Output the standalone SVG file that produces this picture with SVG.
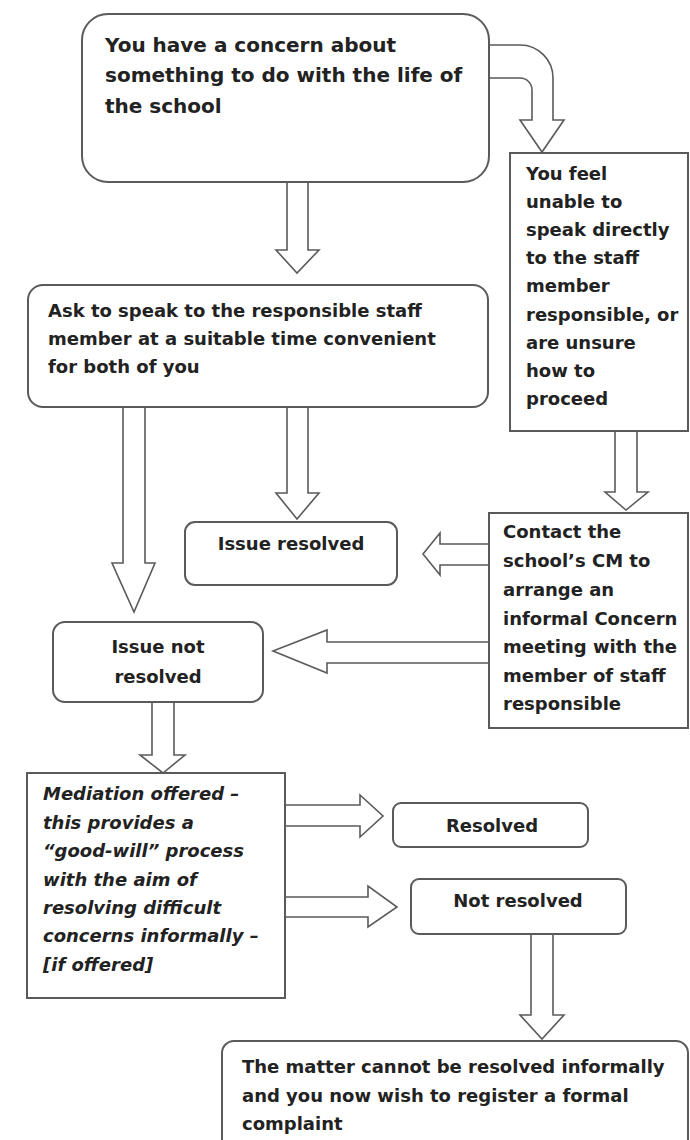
<svg xmlns="http://www.w3.org/2000/svg" width="690" height="1140" viewBox="0 0 690 1140">
<style>
.box{fill:#fff;stroke:#5a5a5a;stroke-width:2}
.arr{fill:#fff;stroke:#5a5a5a;stroke-width:1.6;stroke-linejoin:miter}
text{font-family:"DejaVu Sans","Liberation Sans",sans-serif;font-weight:bold;fill:#222}
.big{font-size:20px}
.t{font-size:18px}
.it{font-style:italic}
.c{text-anchor:middle}
</style>
<rect width="690" height="1140" fill="#fff"/>
<g id="connectors">
<path class="arr" d="M489,45 H520 A33,33 0 0 1 553,78 V120 H564 L542,152 L520,120 H532 V90 A12,12 0 0 0 520,78 H489"/>
<polygon class="arr" points="287,182 287,250 276,250 297,273 319,250 308,250 308,182"/>
<polygon class="arr" points="123,407 123,563 112,563 134,612 155,563 145,563 145,407"/>
<polygon class="arr" points="287,407 287,493 276,493 297,519 319,493 308,493 308,407"/>
<polygon class="arr" points="615,431 615,492 605,492 626,510 648,492 637,492 637,431"/>
<polygon class="arr" points="489,544 440,544 440,533 423,554 440,575 440,565 489,565"/>
<polygon class="arr" points="489,642 327,642 327,630 273,651 327,673 327,663 489,663"/>
<polygon class="arr" points="152,702 152,755 140,755 163,773 185,755 174,755 174,702"/>
<polygon class="arr" points="285,805 360,805 360,795 383,816 360,837 360,826 285,826"/>
<polygon class="arr" points="285,897 368,897 368,886 397,907 368,927 368,917 285,917"/>
<polygon class="arr" points="531,934 531,1015 520,1015 542,1039 564,1015 553,1015 553,934"/>
</g>
<g id="concern">
<rect class="box" x="82" y="14" width="407" height="168" rx="26"/>
<text class="big" x="105" y="52">You have a concern about</text>
<text class="big" x="105" y="82">something to do with the life of</text>
<text class="big" x="105" y="113">the school</text>
</g>
<g id="unable">
<rect class="box" x="510" y="153" width="178" height="278"/>
<text class="t" x="526" y="180">You feel</text>
<text class="t" x="526" y="208">unable to</text>
<text class="t" x="526" y="236">speak directly</text>
<text class="t" x="526" y="264">to the staff</text>
<text class="t" x="526" y="292">member</text>
<text class="t" x="526" y="321">responsible, or</text>
<text class="t" x="526" y="349">are unsure</text>
<text class="t" x="526" y="377">how to</text>
<text class="t" x="526" y="405">proceed</text>
</g>
<g id="ask">
<rect class="box" x="28" y="285" width="460" height="122" rx="15"/>
<text class="t" x="48" y="317">Ask to speak to the responsible staff</text>
<text class="t" x="48" y="345">member at a suitable time convenient</text>
<text class="t" x="48" y="373">for both of you</text>
</g>
<g id="issue-resolved">
<rect class="box" x="185" y="522" width="212" height="63" rx="10"/>
<text class="t c" x="291" y="550">Issue resolved</text>
</g>
<g id="contact">
<rect class="box" x="489" y="513" width="199" height="215"/>
<text class="t" x="503" y="538">Contact the</text>
<text class="t" x="503" y="567">school’s CM to</text>
<text class="t" x="503" y="596">arrange an</text>
<text class="t" x="503" y="625">informal Concern</text>
<text class="t" x="503" y="653">meeting with the</text>
<text class="t" x="503" y="682">member of staff</text>
<text class="t" x="503" y="710">responsible</text>
</g>
<g id="issue-not-resolved">
<rect class="box" x="53" y="622" width="210" height="80" rx="12"/>
<text class="t c" x="158" y="653">Issue not</text>
<text class="t c" x="158" y="683">resolved</text>
</g>
<g id="mediation">
<rect class="box" x="27" y="773" width="258" height="225"/>
<text class="t it" x="43" y="800">Mediation offered –</text>
<text class="t it" x="43" y="829">this provides a</text>
<text class="t it" x="43" y="857">“good-will” process</text>
<text class="t it" x="43" y="886">with the aim of</text>
<text class="t it" x="43" y="914">resolving difficult</text>
<text class="t it" x="43" y="942">concerns informally –</text>
<text class="t it" x="43" y="971">[if offered]</text>
</g>
<g id="resolved">
<rect class="box" x="393" y="803" width="195" height="44" rx="8"/>
<text class="t c" x="492" y="832">Resolved</text>
</g>
<g id="not-resolved">
<rect class="box" x="411" y="879" width="215" height="55" rx="8"/>
<text class="t c" x="518" y="907">Not resolved</text>
</g>
<g id="formal">
<rect class="box" x="222" y="1041" width="466" height="130" rx="12"/>
<text class="t" x="242" y="1073">The matter cannot be resolved informally</text>
<text class="t" x="242" y="1102">and you now wish to register a formal</text>
<text class="t" x="242" y="1130">complaint</text>
</g>
</svg>
